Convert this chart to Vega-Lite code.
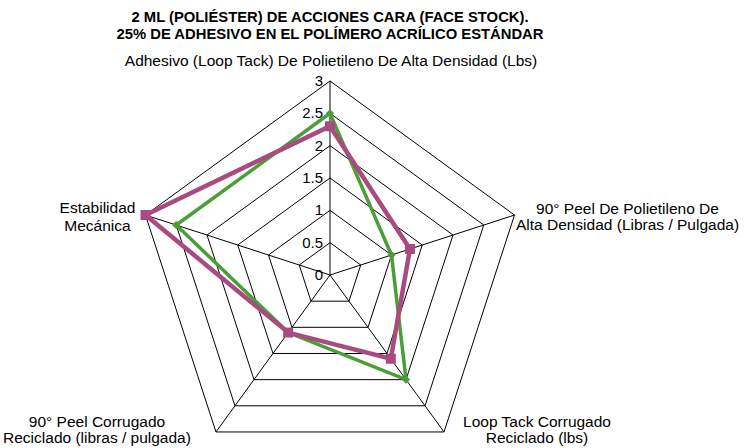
{
  "$schema": "https://vega.github.io/schema/vega-lite/v6.json",
  "width": 748,
  "height": 402,
  "autosize": {"type": "none"},
  "padding": {"top": 46, "left": 0, "right": 0, "bottom": 0},
  "config": {"view": {"stroke": null}, "font": "Liberation Sans"},
  "title": {
    "text": ["2 ML (POLIÉSTER) DE ACCIONES CARA (FACE STOCK).", "25% DE ADHESIVO EN EL POLÍMERO ACRÍLICO ESTÁNDAR"],
    "font": "Liberation Sans",
    "fontSize": 14.8,
    "fontWeight": "bold",
    "color": "black",
    "anchor": "middle",
    "dx": -44,
    "offset": 4,
    "lineHeight": 17
  },
  "datasets": {
    "axes": [
      {"axis": 0, "label": "Adhesivo (Loop Tack) De Polietileno De Alta Densidad (Lbs)"},
      {"axis": 1, "label": "90° Peel De Polietileno De\nAlta Densidad (Libras / Pulgada)"},
      {"axis": 2, "label": "Loop Tack Corrugado\nReciclado (lbs)"},
      {"axis": 3, "label": "90° Peel Corrugado\nReciclado (libras / pulgada)"},
      {"axis": 4, "label": "Estabilidad\nMecánica"}
    ],
    "rings": [
      {"ring": 0.5, "axis": 0}, {"ring": 0.5, "axis": 1}, {"ring": 0.5, "axis": 2}, {"ring": 0.5, "axis": 3}, {"ring": 0.5, "axis": 4},
      {"ring": 1, "axis": 0}, {"ring": 1, "axis": 1}, {"ring": 1, "axis": 2}, {"ring": 1, "axis": 3}, {"ring": 1, "axis": 4},
      {"ring": 1.5, "axis": 0}, {"ring": 1.5, "axis": 1}, {"ring": 1.5, "axis": 2}, {"ring": 1.5, "axis": 3}, {"ring": 1.5, "axis": 4},
      {"ring": 2, "axis": 0}, {"ring": 2, "axis": 1}, {"ring": 2, "axis": 2}, {"ring": 2, "axis": 3}, {"ring": 2, "axis": 4},
      {"ring": 2.5, "axis": 0}, {"ring": 2.5, "axis": 1}, {"ring": 2.5, "axis": 2}, {"ring": 2.5, "axis": 3}, {"ring": 2.5, "axis": 4},
      {"ring": 3, "axis": 0}, {"ring": 3, "axis": 1}, {"ring": 3, "axis": 2}, {"ring": 3, "axis": 3}, {"ring": 3, "axis": 4}
    ],
    "ticks": [
      {"tick": 0, "text": "0"}, {"tick": 0.5, "text": "0.5"}, {"tick": 1, "text": "1"}, {"tick": 1.5, "text": "1.5"},
      {"tick": 2, "text": "2"}, {"tick": 2.5, "text": "2.5"}, {"tick": 3, "text": "3"}
    ],
    "scores": [
      {"series": "Verde", "axis": 0, "value": 2.5},
      {"series": "Verde", "axis": 1, "value": 1.0},
      {"series": "Verde", "axis": 2, "value": 2.0},
      {"series": "Verde", "axis": 3, "value": 1.1},
      {"series": "Verde", "axis": 4, "value": 2.5},
      {"series": "Magenta", "axis": 0, "value": 2.3},
      {"series": "Magenta", "axis": 1, "value": 1.3},
      {"series": "Magenta", "axis": 2, "value": 1.6},
      {"series": "Magenta", "axis": 3, "value": 1.1},
      {"series": "Magenta", "axis": 4, "value": 3.0}
    ]
  },
  "encoding": {
    "x": {"field": "px", "type": "quantitative", "axis": null, "scale": {"domain": [-5.103, 6.464], "zero": false, "nice": false}},
    "y": {"field": "py", "type": "quantitative", "axis": null, "scale": {"domain": [-2.675, 3.541], "zero": false, "nice": false}}
  },
  "layer": [
    {
      "data": {"name": "rings"},
      "transform": [
        {"calculate": "datum.ring * cos(PI/2 - datum.axis * 2 * PI / 5)", "as": "px"},
        {"calculate": "datum.ring * sin(PI/2 - datum.axis * 2 * PI / 5)", "as": "py"}
      ],
      "mark": {"type": "line", "interpolate": "linear-closed", "stroke": "black", "strokeWidth": 1},
      "encoding": {"detail": {"field": "ring"}, "order": {"field": "axis"}}
    },
    {
      "data": {"name": "axes"},
      "transform": [
        {"calculate": "0", "as": "px"},
        {"calculate": "0", "as": "py"},
        {"calculate": "3 * cos(PI/2 - datum.axis * 2 * PI / 5)", "as": "px2"},
        {"calculate": "3 * sin(PI/2 - datum.axis * 2 * PI / 5)", "as": "py2"}
      ],
      "mark": {"type": "rule", "stroke": "black", "strokeWidth": 1},
      "encoding": {"x2": {"field": "px2"}, "y2": {"field": "py2"}}
    },
    {
      "data": {"name": "ticks"},
      "transform": [
        {"calculate": "0", "as": "px"},
        {"calculate": "datum.tick", "as": "py"}
      ],
      "mark": {"type": "text", "align": "right", "baseline": "middle", "dx": -7, "fontSize": 15, "font": "Liberation Sans", "color": "black"},
      "encoding": {"text": {"field": "text"}}
    },
    {
      "data": {"name": "scores"},
      "transform": [
        {"filter": "datum.series == 'Verde'"},
        {"calculate": "datum.value * cos(PI/2 - datum.axis * 2 * PI / 5)", "as": "px"},
        {"calculate": "datum.value * sin(PI/2 - datum.axis * 2 * PI / 5)", "as": "py"}
      ],
      "mark": {"type": "line", "interpolate": "linear-closed", "stroke": "#4a9e38", "strokeWidth": 3.5},
      "encoding": {"order": {"field": "axis"}}
    },
    {
      "data": {"name": "scores"},
      "transform": [
        {"filter": "datum.series == 'Verde'"},
        {"calculate": "datum.value * cos(PI/2 - datum.axis * 2 * PI / 5)", "as": "px"},
        {"calculate": "datum.value * sin(PI/2 - datum.axis * 2 * PI / 5)", "as": "py"}
      ],
      "mark": {"type": "point", "shape": "diamond", "filled": true, "size": 70, "color": "#4a9e38", "opacity": 1},
      "encoding": {}
    },
    {
      "data": {"name": "scores"},
      "transform": [
        {"filter": "datum.series == 'Magenta'"},
        {"calculate": "datum.value * cos(PI/2 - datum.axis * 2 * PI / 5)", "as": "px"},
        {"calculate": "datum.value * sin(PI/2 - datum.axis * 2 * PI / 5)", "as": "py"}
      ],
      "mark": {"type": "line", "interpolate": "linear-closed", "stroke": "#a94b7f", "strokeWidth": 4.5},
      "encoding": {"order": {"field": "axis"}}
    },
    {
      "data": {"name": "scores"},
      "transform": [
        {"filter": "datum.series == 'Magenta'"},
        {"calculate": "datum.value * cos(PI/2 - datum.axis * 2 * PI / 5)", "as": "px"},
        {"calculate": "datum.value * sin(PI/2 - datum.axis * 2 * PI / 5)", "as": "py"}
      ],
      "mark": {"type": "point", "shape": "square", "filled": true, "size": 100, "color": "#a94b7f", "opacity": 1},
      "encoding": {}
    },
    {
      "data": {"name": "axes"},
      "transform": [
        {"filter": "datum.axis == 0"},
        {"calculate": "3 * cos(PI/2 - datum.axis * 2 * PI / 5)", "as": "px"},
        {"calculate": "3 * sin(PI/2 - datum.axis * 2 * PI / 5)", "as": "py"}
      ],
      "mark": {"type": "text", "align": "center", "baseline": "alphabetic", "dx": 1, "dy": -15, "fontSize": 15.5, "font": "Liberation Sans", "color": "black", "lineBreak": "\n"},
      "encoding": {"text": {"field": "label"}}
    },
    {
      "data": {"name": "axes"},
      "transform": [
        {"filter": "datum.axis == 1"},
        {"calculate": "3 * cos(PI/2 - datum.axis * 2 * PI / 5)", "as": "px"},
        {"calculate": "3 * sin(PI/2 - datum.axis * 2 * PI / 5)", "as": "py"}
      ],
      "mark": {"type": "text", "align": "center", "baseline": "alphabetic", "dx": 113, "dy": -1, "fontSize": 15.5, "font": "Liberation Sans", "color": "black", "lineBreak": "\n", "lineHeight": 16},
      "encoding": {"text": {"field": "label"}}
    },
    {
      "data": {"name": "axes"},
      "transform": [
        {"filter": "datum.axis == 2"},
        {"calculate": "3 * cos(PI/2 - datum.axis * 2 * PI / 5)", "as": "px"},
        {"calculate": "3 * sin(PI/2 - datum.axis * 2 * PI / 5)", "as": "py"}
      ],
      "mark": {"type": "text", "align": "center", "baseline": "alphabetic", "dx": 93, "dy": -5, "fontSize": 15.5, "font": "Liberation Sans", "color": "black", "lineBreak": "\n", "lineHeight": 16},
      "encoding": {"text": {"field": "label"}}
    },
    {
      "data": {"name": "axes"},
      "transform": [
        {"filter": "datum.axis == 3"},
        {"calculate": "3 * cos(PI/2 - datum.axis * 2 * PI / 5)", "as": "px"},
        {"calculate": "3 * sin(PI/2 - datum.axis * 2 * PI / 5)", "as": "py"}
      ],
      "mark": {"type": "text", "align": "center", "baseline": "alphabetic", "dx": -119, "dy": -5, "fontSize": 15.5, "font": "Liberation Sans", "color": "black", "lineBreak": "\n", "lineHeight": 16},
      "encoding": {"text": {"field": "label"}}
    },
    {
      "data": {"name": "axes"},
      "transform": [
        {"filter": "datum.axis == 4"},
        {"calculate": "3 * cos(PI/2 - datum.axis * 2 * PI / 5)", "as": "px"},
        {"calculate": "3 * sin(PI/2 - datum.axis * 2 * PI / 5)", "as": "py"}
      ],
      "mark": {"type": "text", "align": "center", "baseline": "alphabetic", "dx": -48, "dy": -2, "fontSize": 15.5, "font": "Liberation Sans", "color": "black", "lineBreak": "\n", "lineHeight": 18},
      "encoding": {"text": {"field": "label"}}
    }
  ]
}
